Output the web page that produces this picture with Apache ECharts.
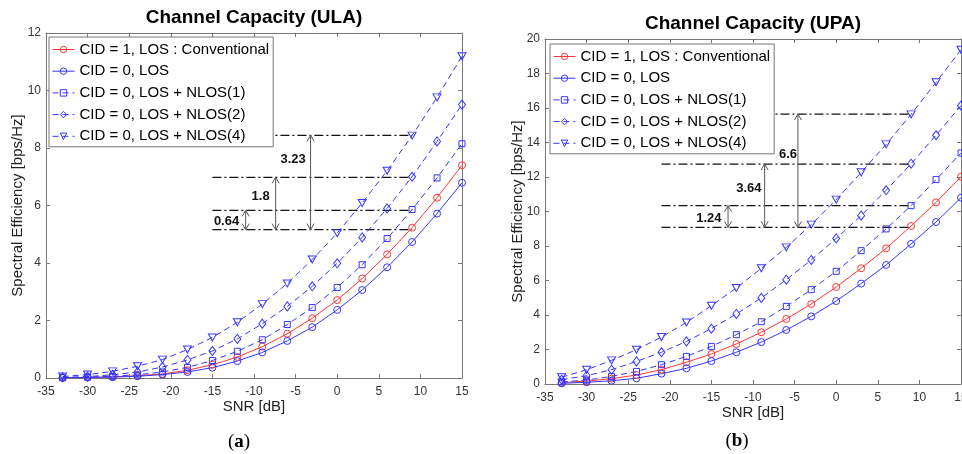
<!DOCTYPE html>
<html>
<head>
<meta charset="utf-8">
<script src="https://cdn.jsdelivr.net/npm/echarts@6/dist/echarts.min.js"></script>
<style>
  html, body { margin: 0; padding: 0; background: #fff; }
  #ulaChart { position: absolute; left: 0; top: 0; width: 481px; height: 454px; }
  #upaChart { position: absolute; left: 481px; top: 0; width: 481px; height: 454px; }
</style>
</head>
<body>
<div id="ulaChart"></div>
<div id="upaChart"></div>
<script>
// SNR 采样点 [dB]
var snr = [-33, -30, -27, -24, -21, -18, -15, -12, -9, -6, -3, 0, 3, 6, 9, 12, 15];
var names = [
  'CID = 1, LOS : Conventional',
  'CID = 0, LOS',
  'CID = 0, LOS + NLOS(1)',
  'CID = 0, LOS + NLOS(2)',
  'CID = 0, LOS + NLOS(4)'
];

// (a) ULA
var ulaConv = [0.01, 0.02, 0.04, 0.08, 0.14, 0.27, 0.46, 0.73, 1.09, 1.54, 2.08, 2.71, 3.46, 4.30, 5.23, 6.27, 7.40];
var ulaLos  = [0.01, 0.02, 0.03, 0.06, 0.12, 0.21, 0.36, 0.59, 0.89, 1.29, 1.77, 2.37, 3.06, 3.85, 4.73, 5.72, 6.79];
var ulaN1   = [0.01, 0.03, 0.06, 0.11, 0.21, 0.37, 0.61, 0.93, 1.33, 1.86, 2.45, 3.15, 3.94, 4.85, 5.86, 6.96, 8.15];
var ulaN2   = [0.02, 0.05, 0.11, 0.21, 0.38, 0.63, 0.94, 1.36, 1.89, 2.49, 3.19, 3.99, 4.89, 5.90, 7.00, 8.23, 9.51];
var ulaN4   = [0.05, 0.12, 0.23, 0.41, 0.64, 0.99, 1.41, 1.94, 2.57, 3.29, 4.12, 5.04, 6.09, 7.21, 8.43, 9.76, 11.19];
// 标注: 水平点划线 [x起, x止, y], 箭头 [x, y下, y上], 文字 [x, y, 文本]
var ulaLevels = [[-15, 9, 5.16], [-15, 9, 5.83], [-15, 9, 6.98], [-15, 9, 8.44]];
var ulaArrows = [[-11, 5.16, 5.83], [-7.4, 5.16, 6.98], [-3.2, 5.16, 8.44]];
var ulaTexts  = [[-13.3, 5.46, '0.64'], [-9.2, 6.33, '1.8'], [-5.3, 7.62, '3.23']];

// (b) UPA
var upaConv = [0.08, 0.17, 0.31, 0.52, 0.83, 1.26, 1.74, 2.32, 3.00, 3.77, 4.64, 5.62, 6.71, 7.86, 9.16, 10.53, 12.02];
var upaLos  = [0.04, 0.10, 0.19, 0.33, 0.60, 0.91, 1.33, 1.84, 2.43, 3.13, 3.92, 4.81, 5.82, 6.90, 8.12, 9.39, 10.80];
var upaN1   = [0.12, 0.23, 0.44, 0.73, 1.12, 1.60, 2.18, 2.86, 3.61, 4.50, 5.47, 6.53, 7.73, 8.99, 10.34, 11.85, 13.39];
var upaN2   = [0.25, 0.48, 0.83, 1.31, 1.84, 2.47, 3.21, 4.06, 4.99, 6.05, 7.19, 8.44, 9.76, 11.23, 12.77, 14.42, 16.14];
var upaN4   = [0.39, 0.83, 1.37, 1.99, 2.72, 3.57, 4.54, 5.57, 6.71, 7.92, 9.24, 10.69, 12.27, 13.89, 15.63, 17.49, 19.38];
var upaLevels = [[-21, 9, 9.08], [-21, 9, 10.34], [-21, 9, 12.75], [-21, 9, 15.65]];
var upaArrows = [[-13, 9.08, 10.34], [-8.6, 9.08, 12.75], [-4.6, 9.08, 15.65]];
var upaTexts  = [[-15.3, 9.58, '1.24'], [-10.5, 11.32, '3.64'], [-5.8, 13.29, '6.6']];

var FONT = '"Liberation Sans", Arial, sans-serif';
var RED = '#ff3535', BLUE = '#3535ff';
var styles = [
  {color: RED, symbol: 'circle', size: 7, dash: 'solid', rotate: 0},
  {color: BLUE, symbol: 'circle', size: 7, dash: 'solid', rotate: 0},
  {color: BLUE, symbol: 'rect', size: 6, dash: [6, 4], rotate: 0},
  {color: BLUE, symbol: 'diamond', size: [7, 9], dash: [6, 4], rotate: 0},
  {color: BLUE, symbol: 'triangle', size: [8, 7], dash: [6, 4], rotate: 180}
];

function axisCommon(show) {
  return {
    axisLine: {show: true, onZero: false, lineStyle: {color: '#777', width: 1}},
    axisTick: {show: true, inside: true, length: 4, lineStyle: {color: '#777'}},
    axisLabel: {show: show, color: '#333', fontSize: 12, fontFamily: FONT},
    splitLine: {show: false}
  };
}

function drawCapacity(domId, cfg) {
  var myChart = echarts.init(document.getElementById(domId));
  var series = cfg.data.map(function (vals, i) {
    var s = styles[i];
    return {
      name: names[i],
      type: 'line',
      data: snr.map(function (x, k) { return [x, vals[k]]; }),
      symbol: s.symbol,
      symbolSize: s.size,
      symbolRotate: s.rotate,
      showAllSymbol: true,
      itemStyle: {color: 'rgba(255,255,255,0)', borderColor: s.color, borderWidth: 1},
      lineStyle: {color: s.color, width: 1, type: s.dash},
      emphasis: {disabled: true},
      animation: false
    };
  });
  // 点划线
  series.push({
    type: 'custom',
    name: 'levels',
    silent: true,
    animation: false,
    clip: false,
    data: cfg.levels,
    renderItem: function (params, api) {
      var a = api.coord([api.value(0), api.value(2)]);
      var b = api.coord([api.value(1), api.value(2)]);
      return {
        type: 'line',
        shape: {x1: a[0], y1: a[1], x2: b[0], y2: b[1]},
        style: {stroke: '#111', lineWidth: 1.2, lineDash: [9, 3, 2, 3]}
      };
    }
  });
  // 双向箭头 + 差值
  series.push({
    type: 'custom',
    name: 'arrows',
    silent: true,
    animation: false,
    clip: false,
    data: cfg.arrows,
    renderItem: function (params, api) {
      var lo = api.coord([api.value(0), api.value(1)]);
      var hi = api.coord([api.value(0), api.value(2)]);
      var t = cfg.texts[params.dataIndex];
      var tp = api.coord([t[0], t[1]]);
      var x = lo[0], st = {stroke: '#555', lineWidth: 1, fill: null};
      return {
        type: 'group',
        children: [
          {type: 'line', shape: {x1: x, y1: lo[1], x2: x, y2: hi[1]}, style: st},
          {type: 'polyline', shape: {points: [[x - 3.5, hi[1] + 6], [x, hi[1]], [x + 3.5, hi[1] + 6]]}, style: st},
          {type: 'polyline', shape: {points: [[x - 3.5, lo[1] - 6], [x, lo[1]], [x + 3.5, lo[1] - 6]]}, style: st},
          {type: 'text', x: tp[0], y: tp[1], style: {
            text: t[2], font: 'bold 13px ' + FONT, fill: '#111',
            align: 'center', verticalAlign: 'middle', textAlign: 'center', textVerticalAlign: 'middle'
          }}
        ]
      };
    }
  });

  var option = {
    animation: false,
    backgroundColor: '#fff',
    grid: {left: cfg.grid[0], top: cfg.grid[1], width: 416, height: 345,
      containLabel: false, outerBoundsMode: 'none'},
    graphic: [
      {type: 'text', x: cfg.title[0], y: cfg.title[1], style: {
        text: cfg.title[2], font: 'bold 19px ' + FONT, fill: '#000',
        align: 'center', verticalAlign: 'middle', textAlign: 'center', textVerticalAlign: 'middle'
      }},
      {type: 'text', x: cfg.caption[0], y: cfg.caption[1], style: {
        text: '{p|(}{b|' + cfg.caption[2] + '}{p|)}',
        rich: {
          p: {font: '19px "Liberation Serif", serif', fill: '#000'},
          b: {font: 'bold 19px "Liberation Serif", serif', fill: '#000'}
        },
        align: 'center', verticalAlign: 'middle', textAlign: 'center', textVerticalAlign: 'middle'
      }}
    ],
    legend: {
      data: names,
      orient: 'vertical',
      left: cfg.legend[0],
      top: cfg.legend[1],
      padding: [4, 4, 2, 3],
      itemGap: 4.7,
      itemWidth: 22,
      itemHeight: 8,
      backgroundColor: '#fff',
      borderColor: '#777',
      borderWidth: 1,
      borderRadius: 0,
      selectedMode: false,
      itemStyle: {color: 'rgba(255,255,255,0)', borderWidth: 1},
      lineStyle: {width: 1},
      textStyle: {fontSize: 15, fontFamily: FONT, color: '#000', lineHeight: 17}
    },
    xAxis: [
      Object.assign({type: 'value', min: -35, max: 15, interval: 5,
        name: 'SNR [dB]', nameLocation: 'middle', nameGap: 21, nameMoveOverlap: false,
        nameTextStyle: {fontSize: 15, fontFamily: FONT, color: '#222'}}, axisCommon(true)),
      Object.assign({type: 'value', min: -35, max: 15, interval: 5, position: 'top'}, axisCommon(false))
    ],
    yAxis: [
      Object.assign({type: 'value', min: 0, max: cfg.ymax, interval: 2,
        name: 'Spectral Efficiency [bps/Hz]', nameLocation: 'middle', nameGap: cfg.nameGap,
        nameMoveOverlap: false,
        nameTextStyle: {fontSize: 15, fontFamily: FONT, color: '#222'}}, axisCommon(true)),
      Object.assign({type: 'value', min: 0, max: cfg.ymax, interval: 2, position: 'right'}, axisCommon(false))
    ],
    series: series
  };
  option.yAxis[0].axisLabel.margin = 5;
  myChart.setOption(option);
  window.addEventListener('resize', function () {
    myChart.resize();
  });
}

drawCapacity('ulaChart', {
  data: [ulaConv, ulaLos, ulaN1, ulaN2, ulaN4],
  levels: ulaLevels, arrows: ulaArrows, texts: ulaTexts,
  ymax: 12,
  grid: [46, 33],
  legend: [49, 37],
  nameGap: 21,
  title: [254, 18, 'Channel Capacity (ULA)'],
  caption: [239, 442, 'a']
});
drawCapacity('upaChart', {
  data: [upaConv, upaLos, upaN1, upaN2, upaN4],
  levels: upaLevels, arrows: upaArrows, texts: upaTexts,
  ymax: 20,
  grid: [64, 39],
  legend: [69, 44],
  nameGap: 20,
  title: [272, 24, 'Channel Capacity (UPA)'],
  caption: [256, 441, 'b']
});
</script>
</body>
</html>
